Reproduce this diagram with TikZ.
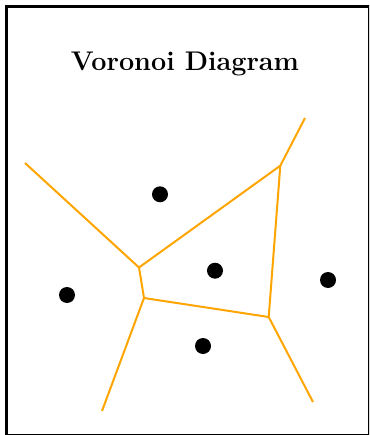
\documentclass[tikz,border=0pt]{standalone}
\begin{document}
\begin{tikzpicture}[x=1pt,y=-1pt,
  edge/.style={draw={rgb,255:red,255;green,165;blue,0},line width=2pt},
  site/.style={circle,fill=black,inner sep=0pt,minimum size=16pt}]
\useasboundingbox (0,0) rectangle (369,435);
\begin{scope}
\clip (0,0) rectangle (369,435);
\draw[line width=3pt] (6.5,6.5) rectangle (369.5,435.5);
\end{scope}
\node[anchor=base,font=\bfseries\fontsize{27}{32}\selectfont] (title) at (185,70.5) {Voronoi Diagram};
\coordinate (A) at (139,267.5);
\coordinate (B) at (144,298);
\coordinate (C) at (280.3,165.7);
\coordinate (D) at (268.7,317);
\coordinate (e1) at (25,163);
\coordinate (e2) at (305,118);
\coordinate (e3) at (102,411);
\coordinate (e4) at (313,402);
\draw[edge] (e1) -- (A) -- (C) -- (e2);
\draw[edge] (A) -- (B) -- (e3);
\draw[edge] (B) -- (D) -- (C);
\draw[edge] (D) -- (e4);
\node[site] (s1) at (160,194.3) {};
\node[site] (s2) at (67,295) {};
\node[site] (s3) at (215,270.7) {};
\node[site] (s4) at (328,280) {};
\node[site] (s5) at (203,346) {};
\end{tikzpicture}
\end{document}
